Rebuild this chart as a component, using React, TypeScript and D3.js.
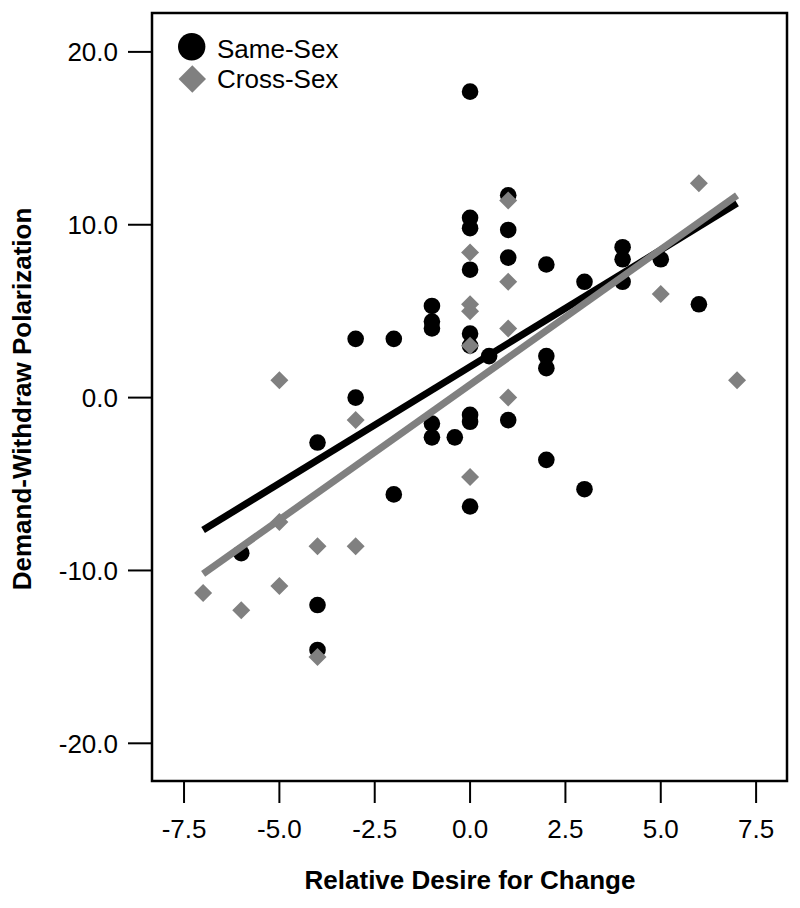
import React from "react";
import * as d3 from "d3";

const sameX = [0, 1, 0, 0, 1, 1, 2, 0, 3, 4, 4, 4, 5, 6, -1, -1, -1, 0, 0, -3, -2, 0.5, 2, 2, -3, 0, 0, 1, -1, -1, -0.4, -4, 2, 3, -2, 0, -6, -4, -4];
const sameY = [17.7, 11.7, 10.4, 9.8, 9.7, 8.1, 7.7, 7.4, 6.7, 8.7, 8.0, 6.7, 8.0, 5.4, 5.3, 4.4, 4.0, 3.7, 3.0, 3.4, 3.4, 2.4, 2.4, 1.7, 0.0, -1.0, -1.4, -1.3, -1.5, -2.3, -2.3, -2.6, -3.6, -5.3, -5.6, -6.3, -9.0, -12.0, -14.6];

const crossX = [6, 1, 0, 1, 5, 0, 0, 1, 0, -5, 7, 1, -3, 0, -5, -4, -3, -7, -5, -6, -4];
const crossY = [12.4, 11.4, 8.4, 6.7, 6.0, 5.4, 5.0, 4.0, 3.0, 1.0, 1.0, 0.0, -1.3, -4.6, -7.2, -8.6, -8.6, -11.3, -10.9, -12.3, -15.0];

// regression fits: [intercept, slope], drawn over xFitRange
const sameFit = [1.79, 1.35];
const crossFit = [0.75, 1.564];
const xFitRange = [-7, 7];

const xTicks = [-7.5, -5.0, -2.5, 0.0, 2.5, 5.0, 7.5];
const yTicks = [20, 10, 0, -10, -20];
const seriesNames = ["Same-Sex", "Cross-Sex"];

const GREY = "#808080";
const FONT = "'Liberation Sans', Arial, sans-serif";
const NARROW = "'Liberation Sans Narrow', 'Arial Narrow', 'Liberation Sans', sans-serif";

export default function App() {
  const L = 152, R = 787, T = 13, B = 781;
  const x = d3.scaleLinear().domain([-8.34, 8.31]).range([L, R]);
  const y = d3.scaleLinear().domain([-22.18, 22.25]).range([B, T]);
  const fitPath = (fit: number[]) =>
    d3.line<number>().x((v) => x(v)).y((v) => y(fit[0] + fit[1] * v))(xFitRange) as string;
  const diamond = (cx: number, cy: number, h: number) =>
    `M${cx},${cy - h}L${cx + h},${cy}L${cx},${cy + h}L${cx - h},${cy}Z`;

  return (
    <svg width={800} height={908} style={{ position: "absolute", left: 0, top: 0, background: "#fff" }}>
      <rect x={0} y={0} width={800} height={908} fill="#fff" />
      {/* frame */}
      <rect x={L} y={T} width={R - L} height={B - T} fill="none" stroke="#000" strokeWidth={2.5} />
      {/* y ticks */}
      {yTicks.map((t) => (
        <g key={"y" + t}>
          <line x1={128} x2={L} y1={y(t)} y2={y(t)} stroke="#000" strokeWidth={2} />
          <text x={118} y={y(t)} dy="0.36em" textAnchor="end" fontFamily={NARROW} fontSize={26} fill="#000">
            {t.toFixed(1)}
          </text>
        </g>
      ))}
      {/* x ticks */}
      {xTicks.map((t) => (
        <g key={"x" + t}>
          <line x1={x(t)} x2={x(t)} y1={B} y2={803} stroke="#000" strokeWidth={2} />
          <text x={x(t)} y={838} textAnchor="middle" fontFamily={NARROW} fontSize={26} fill="#000">
            {t.toFixed(1)}
          </text>
        </g>
      ))}
      {/* axis titles */}
      <text x={470} y={889} textAnchor="middle" fontFamily={FONT} fontWeight="bold" fontSize={26} fill="#000">
        Relative Desire for Change
      </text>
      <text
        transform={`translate(31,${(T + B) / 2 + 2}) rotate(-90)`}
        textAnchor="middle"
        fontFamily={FONT}
        fontWeight="bold"
        fontSize={26}
        fill="#000"
      >
        Demand-Withdraw Polarization
      </text>
      {/* points */}
      {sameX.map((v, i) => (
        <circle key={"s" + i} cx={x(v)} cy={y(sameY[i])} r={8.3} fill="#000" />
      ))}
      {crossX.map((v, i) => (
        <path key={"c" + i} d={diamond(x(v), y(crossY[i]), 9)} fill={GREY} />
      ))}
      {/* fit lines */}
      <path d={fitPath(sameFit)} stroke="#000" strokeWidth={7} fill="none" />
      <path d={fitPath(crossFit)} stroke={GREY} strokeWidth={7} fill="none" />
      {/* legend */}
      <circle cx={191.7} cy={46.7} r={13.7} fill="#000" />
      <path d={diamond(192.3, 79, 13.7)} fill={GREY} />
      <text x={217} y={58} fontFamily={FONT} fontSize={26} fill="#000">{seriesNames[0]}</text>
      <text x={217} y={88} fontFamily={FONT} fontSize={26} fill="#000">{seriesNames[1]}</text>
    </svg>
  );
}
